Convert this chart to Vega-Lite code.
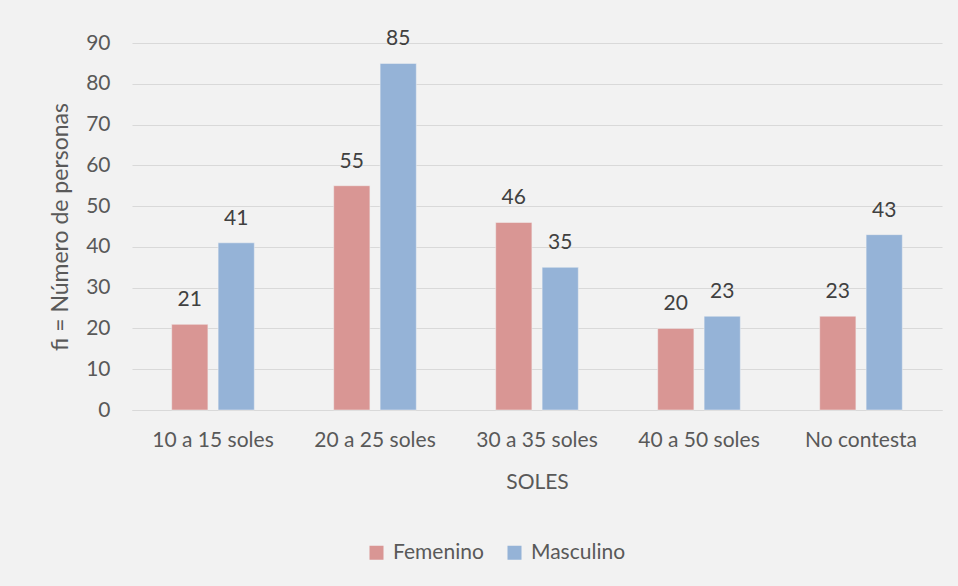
{
  "$schema": "https://vega.github.io/schema/vega-lite/v6.json",
  "autosize": {"type": "none"},
  "width": 810,
  "height": 367,
  "padding": {"left": 132, "top": 43, "right": 16, "bottom": 176},
  "background": "#f2f2f2",
  "config": {
    "view": {"stroke": null},
    "font": "Lato"
  },
  "data": {
    "values": [
      {"cat": "10 a 15 soles", "sexo": "Femenino", "n": 21},
      {"cat": "10 a 15 soles", "sexo": "Masculino", "n": 41},
      {"cat": "20 a 25 soles", "sexo": "Femenino", "n": 55},
      {"cat": "20 a 25 soles", "sexo": "Masculino", "n": 85},
      {"cat": "30 a 35 soles", "sexo": "Femenino", "n": 46},
      {"cat": "30 a 35 soles", "sexo": "Masculino", "n": 35},
      {"cat": "40 a 50 soles", "sexo": "Femenino", "n": 20},
      {"cat": "40 a 50 soles", "sexo": "Masculino", "n": 23},
      {"cat": "No contesta", "sexo": "Femenino", "n": 23},
      {"cat": "No contesta", "sexo": "Masculino", "n": 43}
    ]
  },
  "encoding": {
    "x": {
      "field": "cat", "type": "nominal", "sort": null,
      "scale": {"paddingInner": 0.49, "paddingOuter": 0.245},
      "axis": {"title": "SOLES", "labelAngle": 0, "ticks": false, "domainColor": "#d9d9d9", "domainWidth": 1, "labelPadding": 19, "titlePadding": 21,
        "labelFont": "Lato", "titleFont": "Lato", "labelFontSize": 21, "titleFontSize": 21, "titleFontWeight": "normal", "labelColor": "#595959", "titleColor": "#595959"}
    },
    "xOffset": {"field": "sexo", "type": "nominal", "scale": {"paddingInner": 0.22, "paddingOuter": 0}},
    "y": {
      "field": "n", "type": "quantitative",
      "scale": {"domain": [0, 90], "nice": false},
      "axis": {"title": "fi = Número de personas", "values": [0, 10, 20, 30, 40, 50, 60, 70, 80, 90], "labelOverlap": false, "ticks": false, "domain": false, "gridColor": "#d9d9d9", "gridWidth": 1, "labelPadding": 22, "titlePadding": 13,
        "labelFont": "Lato", "titleFont": "Lato", "labelFontSize": 21, "titleFontSize": 23, "titleFontWeight": "normal", "labelColor": "#595959", "titleColor": "#595959"}
    }
  },
  "layer": [
    {
      "mark": {"type": "bar", "stroke": "#f2f2f2", "strokeWidth": 0.5},
      "encoding": {
        "color": {
          "field": "sexo", "type": "nominal",
          "scale": {"domain": ["Femenino", "Masculino"], "range": ["#d99694", "#95b3d7"]},
          "legend": {"title": null, "orient": "none", "direction": "horizontal", "legendX": 234, "legendY": 499, "symbolType": "square", "symbolSize": 196, "symbolStrokeWidth": 0, "columnPadding": 20, "labelOffset": 6,
            "labelFont": "Lato", "labelFontSize": 21, "labelColor": "#595959"}
        }
      }
    },
    {
      "mark": {"type": "text", "baseline": "alphabetic", "dy": -18, "fontSize": 21, "color": "#404040", "font": "Lato"},
      "encoding": {"text": {"field": "n", "type": "quantitative"}}
    }
  ]
}
